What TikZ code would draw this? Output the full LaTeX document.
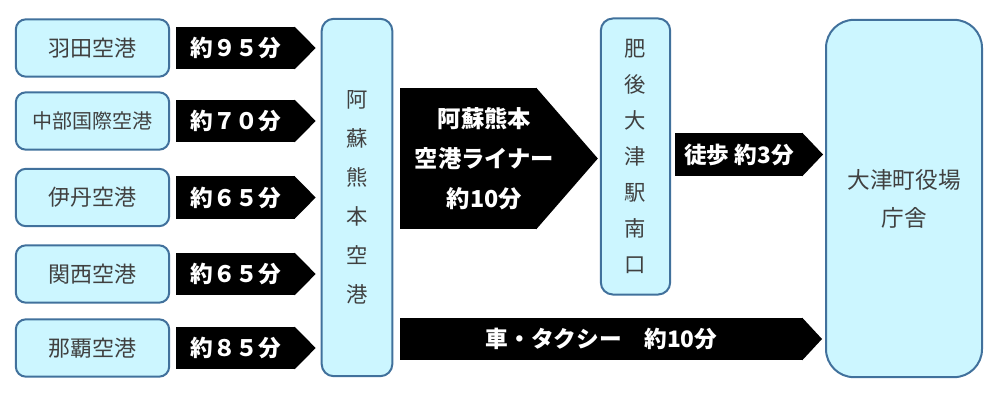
\documentclass[tikz,border=0pt]{standalone}
\usepackage{fontspec}
\newfontfamily\jpfont{Noto Sans CJK JP}
\usepackage{xcolor}
\definecolor{boxfill}{RGB}{204,246,255}
\definecolor{boxline}{RGB}{65,113,156}
\definecolor{boxtext}{RGB}{64,64,64}
\usepackage{tikz}
\usetikzlibrary{positioning, calc}

\tikzset{
  place/.style={draw=boxline, line width=1.5pt, fill=boxfill, text=boxtext, inner sep=0pt},
  airport/.style={place, rounded corners=7.5pt, minimum width=115pt, minimum height=43pt,
    font=\jpfont\fontsize{16.5}{20}\selectfont},
  tallbox/.style={place, rounded corners=9pt, align=center},
  lbl/.style={fill=black, text=white, inner sep=0pt, minimum height=31.5pt,
    font=\jpfont\bfseries\fontsize{17}{20}\selectfont},
}
% triangular head from a label node towards a box
\newcommand{\tipto}[3]{\fill ($(#1.north east)+(-1,0)$) -- ($(#1.east -| #2.west)+(#3,0)$)
  -- ($(#1.south east)+(-1,0)$) -- cycle;}

\begin{document}
\begin{tikzpicture}[x=0.75pt, y=-0.75pt]
    \useasboundingbox (0,0) rectangle (1003,406);

    % airports
    \node[airport] (haneda) at (92.5,48) {羽田空港};
    \node[airport] (chubu)  at (92.5,121) {\fontsize{15}{18}\selectfont 中部国際空港};
    \node[airport] (itami)  at (92.5,197.5) {伊丹空港};
    \node[airport] (kansai) at (92.5,274) {関西空港};
    \node[airport] (naha)   at (92.5,348) {那覇空港};

    \node[tallbox, minimum width=53pt, minimum height=268pt,
      font=\jpfont\fontsize{16}{29.25}\selectfont] (aso) at (357,197.5)
      {阿\\蘇\\熊\\本\\空\\港};
    \node[tallbox, minimum width=52pt, minimum height=207pt,
      font=\jpfont\fontsize{16}{27}\selectfont] (higo) at (635.5,156.5)
      {肥\\後\\大\\津\\駅\\南\\口};
    \node[tallbox, rounded corners=21pt, minimum width=117pt, minimum height=268pt,
      font=\jpfont\fontsize{17}{28.5}\selectfont] (office) at (904,198.5)
      {大津町役場\\庁舎};

    % flights
    \node[lbl, minimum width=89.25pt, right=4.5pt of haneda] (t1) {約９５分};
    \node[lbl, minimum width=89.25pt, right=4.5pt of chubu]  (t2) {約７０分};
    \node[lbl, minimum width=89.25pt, right=4.5pt of itami]  (t3) {約６５分};
    \node[lbl, minimum width=89.25pt, right=4.5pt of kansai] (t4) {約６５分};
    \node[lbl, minimum width=89.25pt, right=4.5pt of naha]   (t5) {約８５分};
    \foreach \t in {t1,t2,t3,t4,t5} {\tipto{\t}{aso}{-5}}

    % onward
    \node[lbl, minimum width=102.75pt, minimum height=105.75pt] (liner) at (468.5,158.5) {};
    \tipto{liner}{higo}{-2}
    \node[lbl, fill=none, align=center, font=\jpfont\bfseries\fontsize{17.5}{30}\selectfont]
      (linertext) at ($(liner.center)+(16,0)$) {阿蘇熊本\\空港ライナー\\約10分};
    \node[lbl, minimum width=96pt, minimum height=32.25pt] (walk) at (739,154.5) {徒歩 約3分};
    \tipto{walk}{office}{-2}
    \node[lbl, minimum width=302.25pt] (car) at (601.5,339) {車・タクシー　約10分};
    \tipto{car}{office}{-3}
\end{tikzpicture}
\end{document}
